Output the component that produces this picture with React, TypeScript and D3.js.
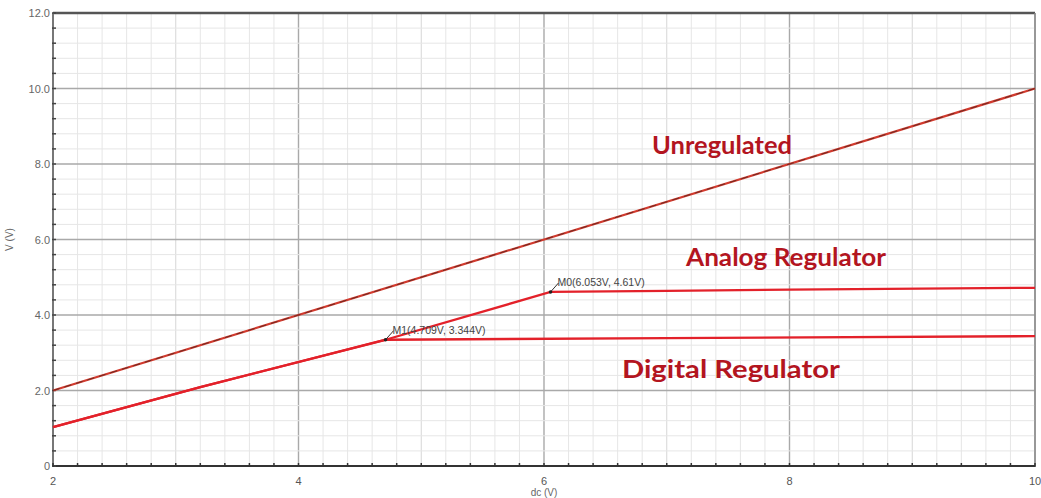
import React from "react";
import * as d3 from "d3";

// DC sweep: output voltage versus supply voltage
const unregulated: [number, number][] = [[2, 2.0], [10, 10.0]];
const analogRegulator: [number, number][] = [
  [2, 1.03], [3.2, 2.09], [4.709, 3.344], [6.053, 4.61], [7, 4.64], [8, 4.67], [10, 4.72],
];
const digitalRegulator: [number, number][] = [
  [2, 1.03], [3.2, 2.09], [4.709, 3.344], [7, 3.39], [10, 3.44],
];
const markers = [
  { name: "M0", x: 6.053, y: 4.61 },
  { name: "M1", x: 4.709, y: 3.344 },
];
const xTickLabels = [2, 4, 6, 8, 10];
const yTickLabels = ["0", "2.0", "4.0", "6.0", "8.0", "10.0", "12.0"];
const yTickValues = [0, 2, 4, 6, 8, 10, 12];
const seriesLabels = [
  { text: "Unregulated", x: 6.88, y: 8.26 },
  { text: "Analog Regulator", x: 7.157, y: 5.3 },
  { text: "Digital Regulator", x: 6.635, y: 2.33 },
];
// rendered widths of the series captions, in pixels
const seriesLabelWidths = [140, 200, 218];

const W = 1041;
const H = 498;
const left = 53, right = 1035, top = 13, bottom = 466;

export default function App() {
  const x = d3.scaleLinear().domain([2, 10]).range([left, right]);
  const y = d3.scaleLinear().domain([0, 12]).range([bottom, top]);
  const line = d3.line<[number, number]>().x((d) => x(d[0])).y((d) => y(d[1]));

  const xMinor = d3.range(2, 10.0001, 0.2).map((v) => +v.toFixed(2));
  const yMinor = d3.range(0, 12.0001, 0.4).map((v) => +v.toFixed(2));
  const isInt = (v: number) => Math.abs(v - Math.round(v)) < 1e-6;
  const isEven = (v: number) => isInt(v) && Math.round(v) % 2 === 0;

  const red = "#e3212a";
  const labelRed = "#b3151f";

  return (
    <svg width={W} height={H} style={{ display: "block", position: "absolute", left: 0, top: 0, background: "#fff" }}>
      <rect x={0} y={0} width={W} height={H} fill="#fff" />
      {/* grid */}
      {xMinor.map((v) => (
        <line key={"gx" + v} x1={x(v)} x2={x(v)} y1={top} y2={bottom}
          stroke={isEven(v) ? "#a9a9a9" : isInt(v) ? "#d6d6d6" : "#e6e6e6"}
          strokeWidth={isEven(v) ? 1.4 : 1} />
      ))}
      {yMinor.map((v) => (
        <line key={"gy" + v} x1={left} x2={right} y1={y(v)} y2={y(v)}
          stroke={isEven(v) ? "#a9a9a9" : "#e6e6e6"}
          strokeWidth={isEven(v) ? 1.4 : 1} />
      ))}
      {/* frame */}
      <line x1={left} x2={right} y1={top} y2={top} stroke="#555" strokeWidth={2.5} />
      <line x1={right} x2={right} y1={top} y2={bottom} stroke="#8a8a8a" strokeWidth={1.5} />
      <line x1={left} x2={left} y1={top} y2={bottom} stroke="#777" strokeWidth={2} />
      <line x1={left} x2={right} y1={bottom} y2={bottom} stroke="#333" strokeWidth={2} />
      {/* tick marks */}
      {yMinor.map((v) => (
        <line key={"ty" + v} x1={left - 1} x2={left + 3} y1={y(v)} y2={y(v)} stroke="#444" strokeWidth={1.5} />
      ))}
      {xMinor.map((v) => (
        <line key={"tx" + v} x1={x(v)} x2={x(v)} y1={bottom - 3} y2={bottom + 1} stroke="#333" strokeWidth={1.5} />
      ))}
      {/* tick labels */}
      {yTickValues.map((v, i) => (
        <text key={"ly" + v} x={left - 3} y={y(v) + 4} textAnchor="end"
          fontFamily="Liberation Sans, Arial, sans-serif" fontSize={11} fill="#666">{yTickLabels[i]}</text>
      ))}
      {xTickLabels.map((v) => (
        <text key={"lx" + v} x={x(v)} y={bottom + 19} textAnchor="middle"
          fontFamily="Liberation Sans, Arial, sans-serif" fontSize={11} fill="#555">{v}</text>
      ))}
      <text x={x(6)} y={496} textAnchor="middle" fontFamily="Liberation Sans, Arial, sans-serif" fontSize={10} fill="#666">dc (V)</text>
      <text transform={`translate(13,${(top + bottom) / 2}) rotate(-90)`} textAnchor="middle"
        fontFamily="Liberation Sans, Arial, sans-serif" fontSize={10} fill="#666">V (V)</text>

      {/* traces */}
      <path d={line(unregulated) || ""} fill="none" stroke="#d23a2e" strokeWidth={2.2} />
      <path d={line(unregulated) || ""} fill="none" stroke="#6e2a22" strokeWidth={1} strokeDasharray="7,5" />
      <path d={line(digitalRegulator) || ""} fill="none" stroke={red} strokeWidth={2.3} />
      <path d={line(analogRegulator) || ""} fill="none" stroke={red} strokeWidth={2.3} />

      {/* markers */}
      {markers.map((m) => (
        <g key={m.name}>
          <line x1={x(m.x)} y1={y(m.y)} x2={x(m.x) + 8} y2={y(m.y) - 9} stroke="#333" strokeWidth={1} />
          <circle cx={x(m.x)} cy={y(m.y)} r={1.8} fill="#222" />
          <text x={x(m.x) + 7} y={y(m.y) - 6} fontFamily="Liberation Sans, Arial, sans-serif" fontSize={10.5} fill="#444">
            {`${m.name}(${m.x}V, ${m.y}V)`}
          </text>
        </g>
      ))}

      {/* series labels */}
      {seriesLabels.map((l, i) => (
        <text key={l.text} x={x(l.x)} y={y(l.y)} fontFamily="Lato, Open Sans, sans-serif" fontWeight={700}
          fontSize={25.5} fill={labelRed} textLength={seriesLabelWidths[i]} lengthAdjust="spacingAndGlyphs">{l.text}</text>
      ))}
    </svg>
  );
}
